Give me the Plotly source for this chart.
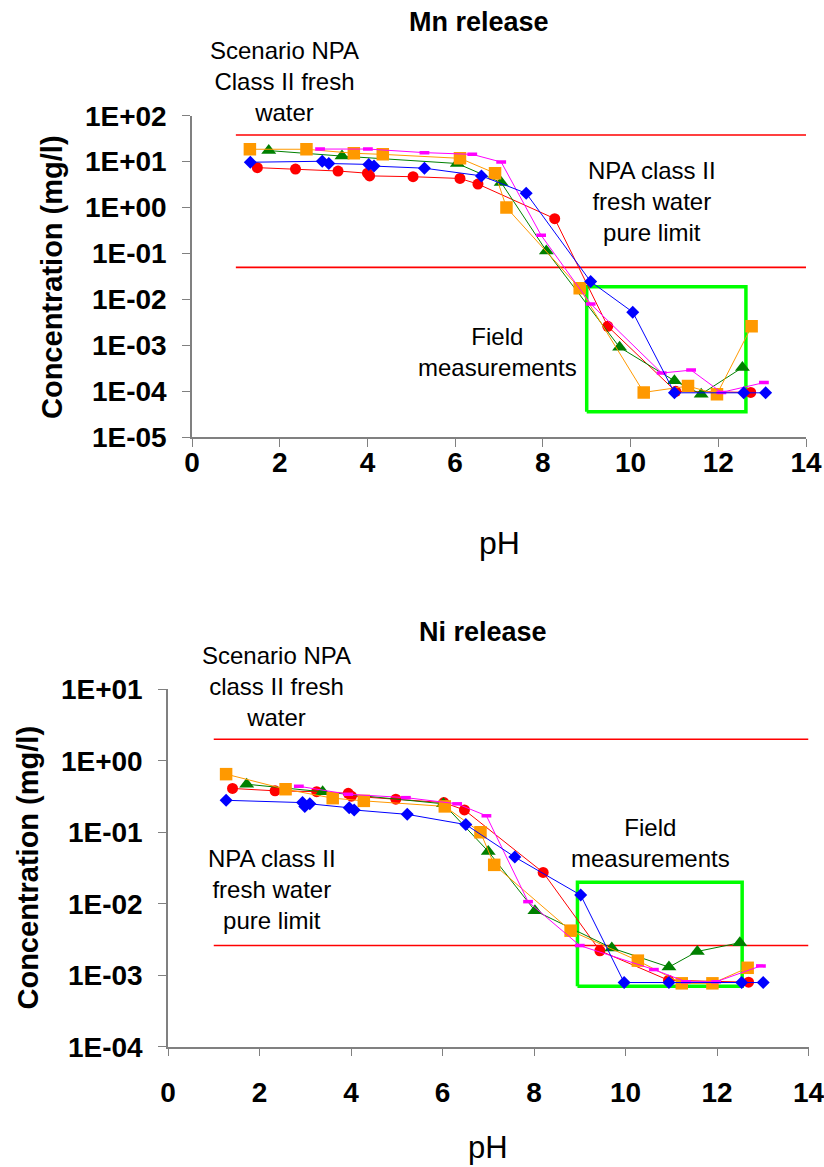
import plotly.graph_objects as go

# ---------------- data: Mn release ----------------
mn_blue_ph = [1.33, 2.97, 3.12, 4.03, 4.15, 5.30, 6.60, 7.62, 9.09, 10.05, 11.0, 12.58, 13.08]
mn_blue_c = [9.7, 10.2, 9.1, 8.7, 8.0, 7.2, 4.9, 2.05, 0.0245, 5.3e-3, 9.3e-5, 9.3e-5, 9.3e-5]
mn_red_ph = [1.49, 2.36, 3.33, 4.00, 4.05, 5.04, 6.11, 6.52, 8.27, 9.48, 11.03, 12.74]
mn_red_c = [7.4, 6.9, 6.25, 5.6, 4.9, 4.7, 4.3, 3.25, 0.575, 2.6e-3, 1.0e-4, 9.5e-5]
mn_green_ph = [1.75, 3.42, 6.05, 7.05, 8.08, 9.75, 11.0, 11.61, 12.55]
mn_green_c = [17.4, 13.2, 9.1, 3.5, 0.114, 9.1e-4, 1.7e-4, 8.7e-5, 3.3e-4]
mn_orange_ph = [1.32, 2.61, 3.69, 4.35, 6.11, 6.91, 7.17, 8.84, 10.30, 11.31, 11.97, 12.76]
mn_orange_c = [18.6, 18.6, 15.2, 14.4, 11.8, 5.6, 1.0, 0.0175, 9.5e-5, 1.3e-4, 8.7e-5, 2.6e-3]
mn_magenta_ph = [2.92, 4.01, 5.30, 6.39, 7.05, 7.96, 9.09, 10.71, 11.38, 12.07, 13.04]
mn_magenta_c = [18.8, 18.8, 15.7, 14.4, 9.8, 0.25, 8.0e-3, 2.5e-4, 2.9e-4, 9.5e-5, 1.55e-4]
mn_limits = [38, 0.05]          # scenario line, pure limit line
mn_limit_ph = [1, 14]
mn_box_ph = [9.0, 12.63]
mn_box_c = [3.6e-5, 0.019]

# ---------------- data: Ni release ----------------
ni_blue_ph = [1.27, 2.94, 2.99, 3.10, 3.96, 4.07, 5.23, 6.51, 7.58, 9.02, 9.97, 10.95, 12.54, 13.01]
ni_blue_c = [0.28, 0.26, 0.23, 0.25, 0.22, 0.205, 0.178, 0.128, 0.045, 0.0132, 7.9e-4, 7.9e-4, 7.9e-4, 7.9e-4]
ni_red_ph = [1.41, 2.34, 3.25, 3.94, 4.01, 4.98, 6.03, 6.48, 8.20, 9.44, 10.94, 12.69]
ni_red_c = [0.41, 0.38, 0.37, 0.35, 0.32, 0.29, 0.26, 0.205, 0.0274, 2.2e-3, 8.5e-4, 8.0e-4]
ni_green_ph = [1.72, 3.38, 6.02, 7.00, 8.02, 9.70, 10.95, 11.57, 12.50]
ni_green_c = [0.47, 0.37, 0.25, 0.054, 8.0e-3, 2.4e-3, 1.3e-3, 2.15e-3, 2.85e-3]
ni_orange_ph = [1.27, 2.57, 3.60, 4.28, 6.05, 6.83, 7.13, 8.80, 10.27, 11.23, 11.90, 12.67]
ni_orange_c = [0.65, 0.40, 0.30, 0.275, 0.23, 0.10, 0.035, 4.2e-3, 1.6e-3, 7.7e-4, 7.7e-4, 1.27e-3]
ni_magenta_ph = [2.86, 3.94, 5.20, 6.32, 6.96, 7.87, 9.00, 10.62, 11.32, 11.98, 12.96]
ni_magenta_c = [0.44, 0.34, 0.305, 0.25, 0.17, 0.0107, 2.6e-3, 1.2e-3, 8.1e-4, 8.1e-4, 1.35e-3]
ni_limits = [2.0, 0.0026]
ni_limit_ph = [1, 14]
ni_box_ph = [8.95, 12.55]
ni_box_c = [7.0e-4, 0.02]

x_ticks = [0, 2, 4, 6, 8, 10, 12, 14]
mn_yticks = [1e2, 1e1, 1e0, 1e-1, 1e-2, 1e-3, 1e-4, 1e-5]
mn_ylabels = ["1E+02", "1E+01", "1E+00", "1E-01", "1E-02", "1E-03", "1E-04", "1E-05"]
ni_yticks = [1e1, 1e0, 1e-1, 1e-2, 1e-3, 1e-4]
ni_ylabels = ["1E+01", "1E+00", "1E-01", "1E-02", "1E-03", "1E-04"]

FONT = "Liberation Sans, Arial, sans-serif"
W, H = 824, 1167   # body margin is removed by the post script, so the figure fills the page


def fx(px_):
    return px_ / W


def fy(py_):
    return 1 - py_ / H


fig = go.Figure()

series_style = [
    ("red", dict(symbol="circle", size=11, color="#FF0000")),
    ("green", dict(symbol="triangle-up", size=13, color="#008000")),
    ("orange", dict(symbol="square", size=12.5, color="#FF9900")),
    ("magenta", dict(symbol="line-ew", size=7, color="#FF00FF", line=dict(color="#FF00FF", width=3.5))),
    ("blue", dict(symbol="diamond", size=10, color="#0000FF")),
]
line_col = {"red": "#FF0000", "green": "#008000", "orange": "#FF9900", "magenta": "#FF00FF", "blue": "#0000FF"}

mn_data = {"red": (mn_red_ph, mn_red_c), "green": (mn_green_ph, mn_green_c),
           "orange": (mn_orange_ph, mn_orange_c), "magenta": (mn_magenta_ph, mn_magenta_c),
           "blue": (mn_blue_ph, mn_blue_c)}
ni_data = {"red": (ni_red_ph, ni_red_c), "green": (ni_green_ph, ni_green_c),
           "orange": (ni_orange_ph, ni_orange_c), "magenta": (ni_magenta_ph, ni_magenta_c),
           "blue": (ni_blue_ph, ni_blue_c)}

for data, xa, ya, lims, limx, bx, by in [
    (mn_data, "x", "y", mn_limits, mn_limit_ph, mn_box_ph, mn_box_c),
    (ni_data, "x2", "y2", ni_limits, ni_limit_ph, ni_box_ph, ni_box_c),
]:
    for lv in lims:
        fig.add_trace(go.Scatter(x=limx, y=[lv, lv], mode="lines", xaxis=xa, yaxis=ya,
                                 line=dict(color="#FF0000", width=1.6), showlegend=False, hoverinfo="skip"))
    fig.add_trace(go.Scatter(x=[bx[0], bx[1], bx[1], bx[0], bx[0]],
                             y=[by[0], by[0], by[1], by[1], by[0]], mode="lines",
                             xaxis=xa, yaxis=ya, line=dict(color="#00FF00", width=3.5),
                             showlegend=False, hoverinfo="skip"))
    for name, mk in series_style:
        px_, cy = data[name]
        fig.add_trace(go.Scatter(x=px_, y=cy, mode="lines+markers", xaxis=xa, yaxis=ya,
                                 line=dict(color=line_col[name], width=1), marker=mk,
                                 showlegend=False, name=name))

axis_common = dict(showline=True, linecolor="#808080", linewidth=1.5, ticks="outside",
                   ticklen=8, tickcolor="#808080", tickwidth=1.3, showgrid=False, zeroline=False,
                   automargin=False, ticklabeloverflow="allow",
                   tickfont=dict(family=FONT, size=28, color="black", weight="bold"))

fig.update_layout(
    template="none",
    width=W, height=H, margin=dict(l=0, r=0, t=0, b=0, pad=0, autoexpand=False), autosize=False,
    paper_bgcolor="white", plot_bgcolor="white", showlegend=False,
    xaxis=dict(domain=[fx(192), fx(806)], range=[0, 14], tickvals=x_ticks, anchor="y",
               ticklabelstandoff=-9, **axis_common),
    yaxis=dict(domain=[fy(437.3), fy(115.7)], type="log", range=[-5, 2],
               tickvals=mn_yticks, ticktext=mn_ylabels, anchor="x", ticklabelstandoff=10, **axis_common),
    xaxis2=dict(domain=[fx(168), fx(808.5)], range=[0, 14], tickvals=x_ticks, anchor="y2",
                ticklabelstandoff=12, **axis_common),
    yaxis2=dict(domain=[fy(1046.7), fy(689.3)], type="log", range=[-4, 1],
                tickvals=ni_yticks, ticktext=ni_ylabels, anchor="x2", ticklabelstandoff=10, **axis_common),
)


def ann(text, px_, py_, size, bold=False, angle=0):
    fig.add_annotation(text=text, x=fx(px_), y=fy(py_), xref="paper", yref="paper",
                       showarrow=False, xanchor="center", yanchor="middle", textangle=angle,
                       font=dict(family=FONT, size=size, color="black", weight="bold" if bold else "normal"))


# top chart texts
ann("Mn release", 479, 22, 27, bold=True)
ann("Scenario NPA<br>Class II fresh<br>water", 284, 81, 24)
ann("NPA class II<br>fresh water<br>pure limit", 652, 202, 24)
ann("Field<br>measurements", 498, 352, 24)
ann("Concentration (mg/l)", 52, 277, 29, bold=True, angle=-90)
ann("pH", 500, 543, 32)

# bottom chart texts
ann("Ni release", 483, 632, 27, bold=True)
ann("Scenario NPA<br>class II fresh<br>water", 276, 686, 24)
ann("NPA class II<br>fresh water<br>pure limit", 272, 889, 24)
ann("Field<br>measurements", 650, 843, 24)
ann("Concentration (mg/l)", 27.5, 868, 29, bold=True, angle=-90)
ann("pH", 488, 1147, 31)

fig.write_html("out.html", config={"displayModeBar": False},
               post_script="document.body.style.margin='0';document.body.style.overflow='hidden';")
